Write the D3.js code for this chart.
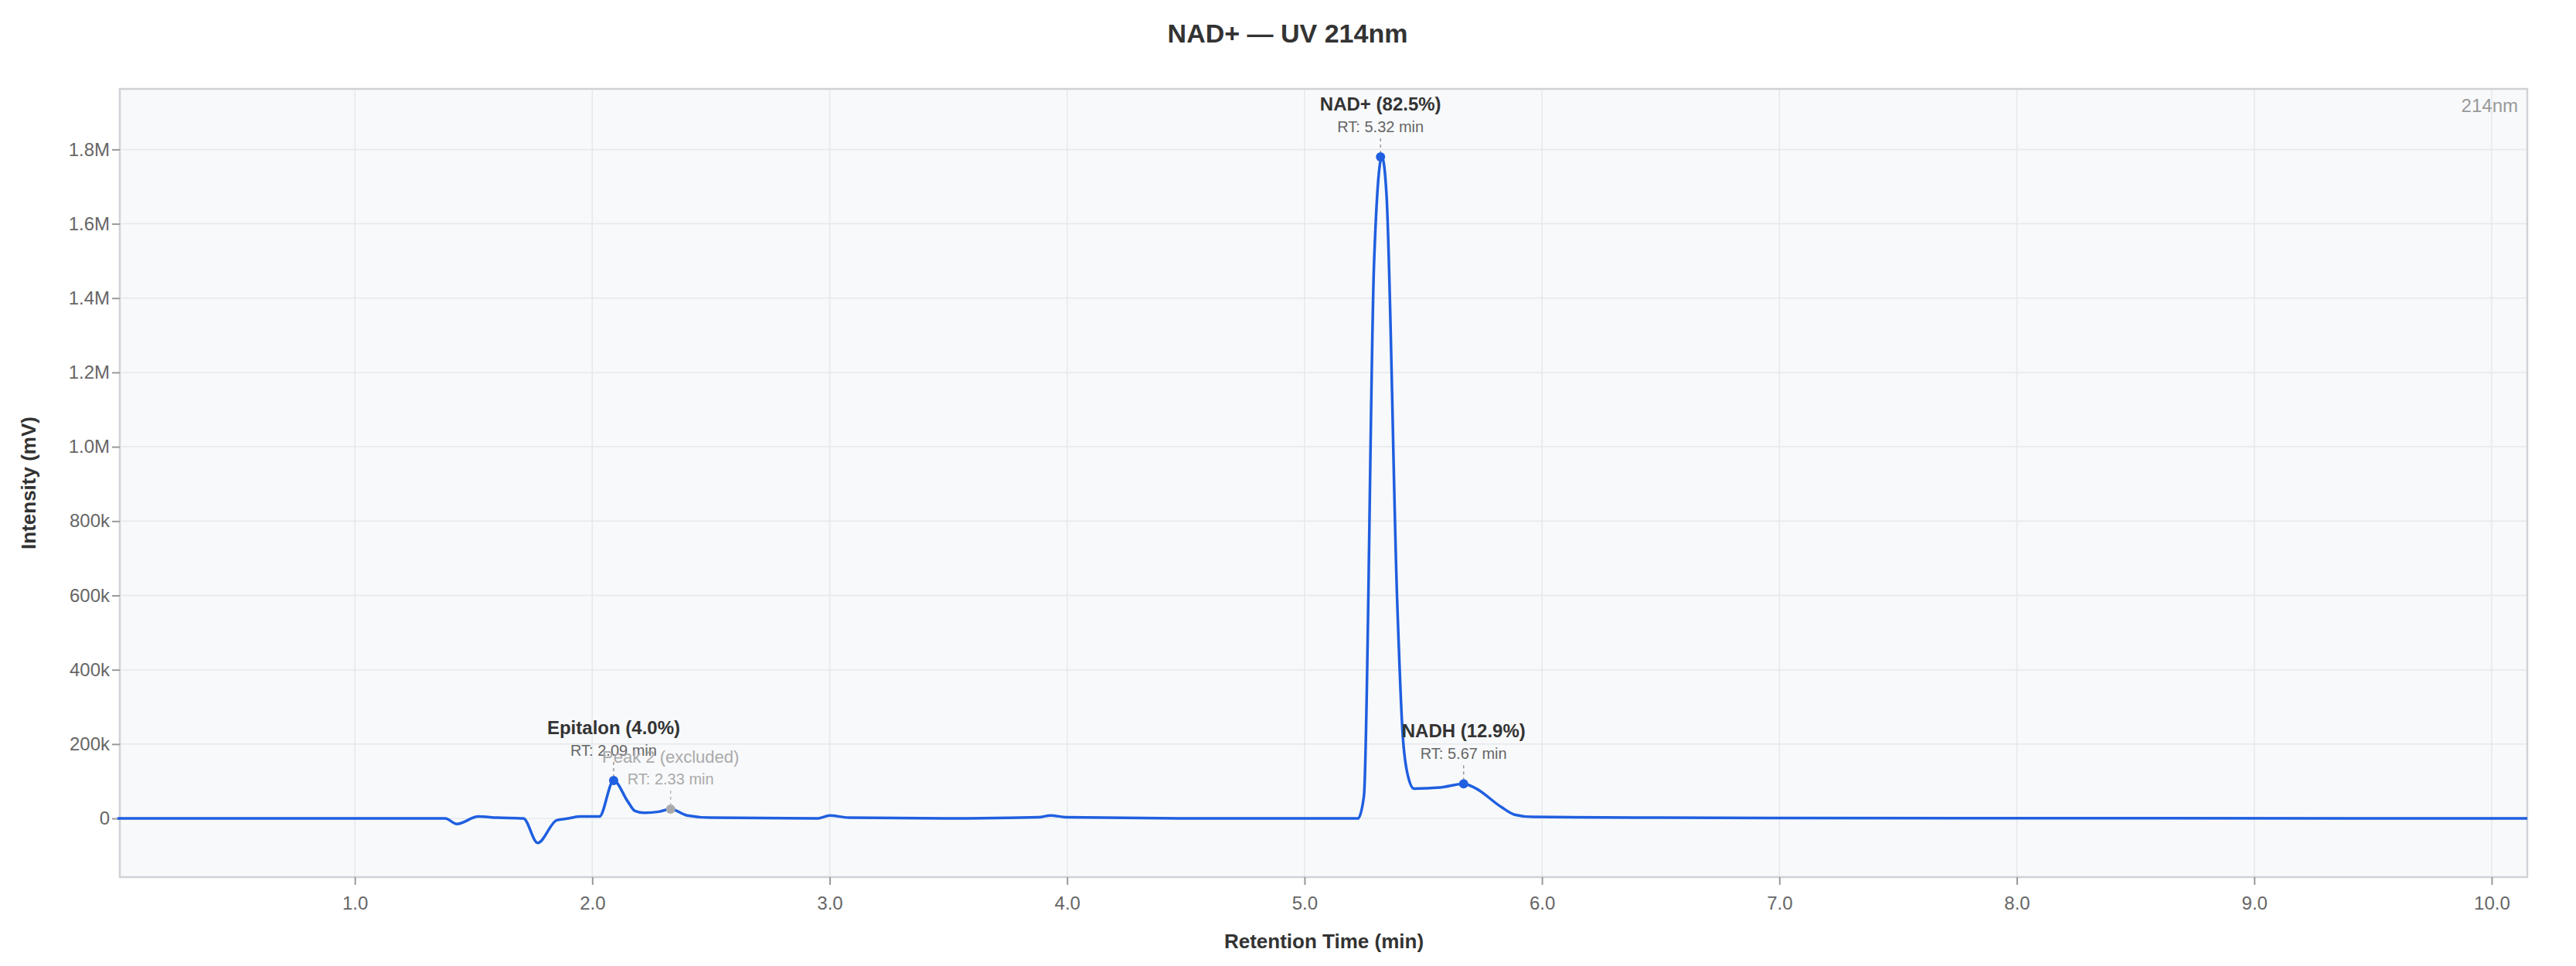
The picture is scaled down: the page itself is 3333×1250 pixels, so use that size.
<!DOCTYPE html>
<html><head><meta charset="utf-8">
<script src="https://cdn.jsdelivr.net/npm/d3@7"></script>
<style>body{margin:0;background:#fff;font-family:"Liberation Sans",Arial,sans-serif}</style>
</head><body><svg id="c" width="3333" height="1250"></svg>
<script>
const times = [0,1.38,1.43,1.52,1.6,1.71,1.77,1.85,1.9,1.95,2.03,2.09,2.15,2.18,2.22,2.28,2.33,2.4,2.5,2.95,3.0,3.08,3.5,3.88,3.93,4.0,4.5,5.225,5.25,5.293,5.326,5.345,5.39,5.413,5.436,5.461,5.57,5.67,5.715,5.83,5.885,5.96,6.5,7.0,10.15];
const values = [0,0,-15000,5000,2000,0,-66000,-5000,0,5000,5000,102000,45000,20000,15000,18000,25000,8000,2000,0,8000,2000,0,3000,8000,3000,0,0,60000,1500000,1780000,1680000,587000,229000,113000,80000,83000,93000,83000,30000,10000,4000,2000,1000,0];
const peakNames = ["Epitalon (4.0%)","Peak 2 (excluded)","NAD+ (82.5%)","NADH (12.9%)"];
const peakRT = [2.09,2.33,5.32,5.67];
const peakVal = [102000,25000,1780000,93000];
const peakExcluded = [false,true,false,false];
const yTicks = [0,200000,400000,600000,800000,1000000,1200000,1400000,1600000,1800000];
const yTickLabels = ["0","200k","400k","600k","800k","1.0M","1.2M","1.4M","1.6M","1.8M"];
const xTicks = [1,2,3,4,5,6,7,8,9,10];

const svg = d3.select("#c");
const L=155,R=3270,T=115,B=1135;
const x = d3.scaleLinear().domain([0.01,10.15]).range([L,R]);
const y = d3.scaleLinear().domain([-158000,1963000]).range([B,T]);
svg.append("rect").attr("x",L).attr("y",T).attr("width",R-L).attr("height",B-T).attr("fill","#f8f9fb");
svg.append("g").selectAll("line").data(xTicks).join("line").attr("x1",d=>x(d)).attr("x2",d=>x(d)).attr("y1",T).attr("y2",B).attr("stroke","#e6e8ec").attr("stroke-width",1.5);
svg.append("g").selectAll("line").data(yTicks).join("line").attr("x1",L).attr("x2",R).attr("y1",d=>y(d)).attr("y2",d=>y(d)).attr("stroke","#e6e8ec").attr("stroke-width",1.5);
svg.append("rect").attr("x",L).attr("y",T).attr("width",R-L).attr("height",B-T).attr("fill","none").attr("stroke","#cfd2d6").attr("stroke-width",2.5);
const xa = svg.append("g").attr("transform",`translate(0,${B})`).call(d3.axisBottom(x).tickValues(xTicks).tickFormat(d3.format(".1f")).tickSize(10).tickSizeOuter(0));
const ya = svg.append("g").attr("transform",`translate(${L},0)`).call(d3.axisLeft(y).tickValues(yTicks).tickFormat((d,i)=>yTickLabels[i]).tickSize(10).tickSizeOuter(0));
[xa,ya].forEach(a=>{a.select(".domain").remove();a.selectAll("line").attr("stroke","#999").attr("stroke-width",2);a.selectAll("text").attr("font-size",24).attr("fill","#666").attr("font-family","Liberation Sans, Arial");});
xa.selectAll("text").attr("dy","1.2em");
svg.append("text").attr("x",1666).attr("y",55).attr("text-anchor","middle").attr("font-size",34).attr("font-weight","bold").attr("fill","#333").text("NAD+ — UV 214nm");
svg.append("text").attr("x",1713).attr("y",1227).attr("text-anchor","middle").attr("font-size",26).attr("font-weight","bold").attr("fill","#333").text("Retention Time (min)");
svg.append("text").attr("transform","translate(46,625) rotate(-90)").attr("text-anchor","middle").attr("font-size",26).attr("font-weight","bold").attr("fill","#333").text("Intensity (mV)");
svg.append("text").attr("x",R-12).attr("y",145).attr("text-anchor","end").attr("font-size",24).attr("fill","#999").text("214nm");
const line = d3.line().x((d,i)=>x(times[i])).y((d,i)=>y(values[i])).curve(d3.curveMonotoneX);
svg.append("path").datum(values).attr("d",line).attr("fill","none").attr("stroke","#1f5fe0").attr("stroke-width",3.5).attr("stroke-linejoin","round");
peakNames.forEach((n,i)=>{
  const px=x(peakRT[i]), py=y(peakVal[i]);
  const ex=peakExcluded[i];
  const ty=py-32;
  svg.append("line").attr("x1",px).attr("x2",px).attr("y1",ty+8).attr("y2",py-6).attr("stroke",ex?"#bbb":"#999").attr("stroke-width",1.5).attr("stroke-dasharray","4,4");
  svg.append("circle").attr("cx",px).attr("cy",py).attr("r",6).attr("fill",ex?"#aaa":"#1f5fe0");
  svg.append("text").attr("x",px).attr("y",ty).attr("text-anchor","middle").attr("font-size",20).attr("fill",ex?"#aaa":"#666").text("RT: "+peakRT[i].toFixed(2)+" min");
  svg.append("text").attr("x",px).attr("y",ty-28).attr("text-anchor","middle").attr("font-size",ex?22:24).attr("font-weight",ex?"normal":"bold").attr("fill",ex?"#aaa":"#333").text(n);
});
</script></body></html>
